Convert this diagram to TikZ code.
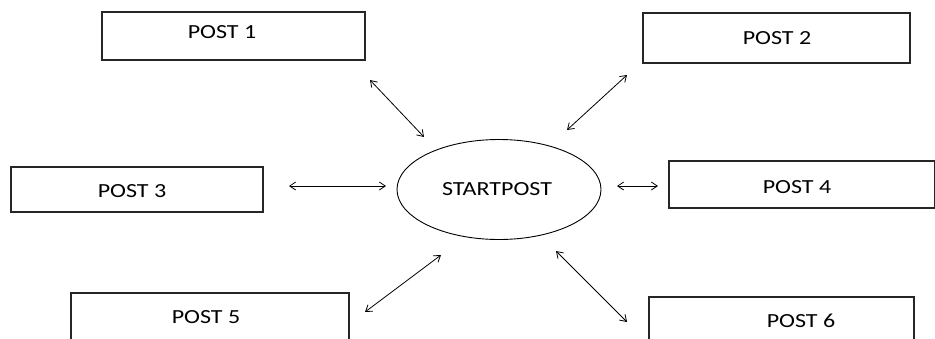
\documentclass[tikz,border=0pt]{standalone}
\usepackage{fontspec}
\setmainfont{Carlito}
\usetikzlibrary{arrows.meta}
\begin{document}
\begin{tikzpicture}[x=1pt,y=-1pt,
  postbox/.style={draw=black!85,line width=1.3pt,rectangle,inner sep=0pt},
  lbl/.style={inner sep=0pt,font=\fontsize{20}{24}\selectfont,text=black},
  link/.style={line width=0.8pt,{Straight Barb[length=6pt,width=8pt]}-{Straight Barb[length=6pt,width=8pt]}}]
\useasboundingbox (0,0) rectangle (935,338);
\clip (0,0) rectangle (935,338);
\fill[white] (0,0) rectangle (935,338);
% boxes
\node[postbox,minimum width=263pt,minimum height=48pt] (b1) at (233.5,36) {};
\node[postbox,minimum width=267pt,minimum height=50pt] (b2) at (776.5,38) {};
\node[postbox,minimum width=252pt,minimum height=45pt] (b3) at (137,189.5) {};
\node[postbox,minimum width=266pt,minimum height=47pt] (b4) at (802,184.5) {};
\node[postbox,minimum width=278pt,minimum height=54pt] (b5) at (210,320) {};
\node[postbox,minimum width=265pt,minimum height=54pt] (b6) at (781.5,324) {};
% ellipse
\draw[line width=0.9pt] (499,189.5) ellipse [x radius=102, y radius=50];
\node[lbl] (sp) at (497,189) {\scalebox{1.2}[1]{STARTPOST}};
% labels
\node[lbl] (t1) at (222,32) {\scalebox{1.2}[1]{POST 1}};
\node[lbl] (t2) at (777,38) {\scalebox{1.2}[1]{POST 2}};
\node[lbl] (t3) at (132,191) {\scalebox{1.2}[1]{POST 3}};
\node[lbl] (t4) at (797,187) {\scalebox{1.2}[1]{POST 4}};
\node[lbl] (t5) at (206,317) {\scalebox{1.2}[1]{POST 5}};
\node[lbl] (t6) at (801,321) {\scalebox{1.2}[1]{POST 6}};
% arrow endpoints
\coordinate (a1s) at (370,80);  \coordinate (a1e) at (424,137);
\coordinate (a2s) at (627,75);  \coordinate (a2e) at (567,130);
\coordinate (a3s) at (289,186); \coordinate (a3e) at (386,186);
\coordinate (a4s) at (658,186); \coordinate (a4e) at (617,186);
\coordinate (a5s) at (365,312); \coordinate (a5e) at (441,255);
\coordinate (a6s) at (627,322); \coordinate (a6e) at (556,251);
\draw[link] (a1s) -- (a1e);
\draw[link] (a2s) -- (a2e);
\draw[link] (a3s) -- (a3e);
\draw[link] (a4s) -- (a4e);
\draw[link] (a5s) -- (a5e);
\draw[link] (a6s) -- (a6e);
\end{tikzpicture}
\end{document}
